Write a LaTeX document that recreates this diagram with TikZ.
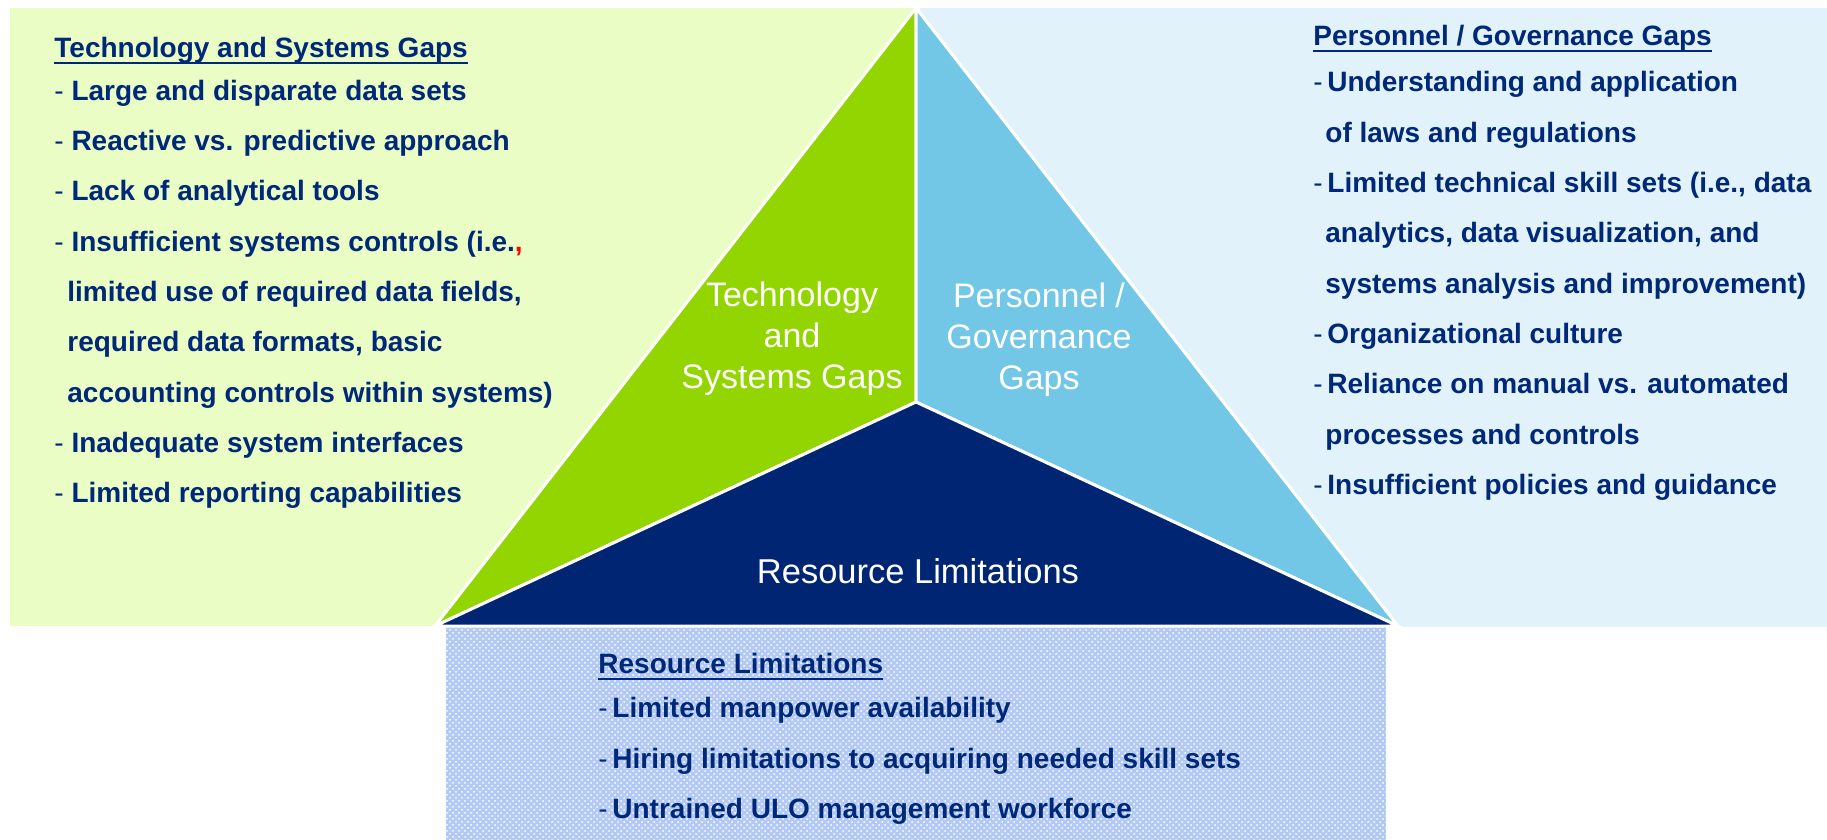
\documentclass[tikz,border=0pt]{standalone}
\usepackage{fontspec}
\setmainfont{Liberation Sans}
\usetikzlibrary{patterns,positioning}

\definecolor{textnavy}{RGB}{0,40,120}
\definecolor{trinavy}{RGB}{0,37,115}
\definecolor{trigreen}{RGB}{147,213,0}
\definecolor{triblue}{RGB}{114,198,230}
\definecolor{panelgreen}{RGB}{234,253,196}
\definecolor{panelblue}{RGB}{225,242,250}
\definecolor{panelbase}{RGB}{178,201,246}

\newsavebox{\headbox}
\newcommand{\listhead}[1]{\sbox{\headbox}{#1}\rlap{\rule[-3.2pt]{\wd\headbox}{1.1pt}}\usebox{\headbox}}
\newcommand{\ldash}{{\mdseries -}\ }
\newcommand{\rdash}{{\mdseries -}\,}
\newcommand{\lcont}{\hspace*{6.5pt}}
\newcommand{\rcont}{\hspace*{6pt}}

\tikzset{gap list/.style={anchor=north west,align=left,inner sep=0pt,text=textnavy,
                          font=\fontsize{14pt}{25.15pt}\selectfont\bfseries},
         tri label/.style={align=center,inner sep=0pt,text=white,
                           font=\fontsize{17pt}{20.4pt}\selectfont},
         tri part/.style={draw=white,line width=1.5pt,line join=miter},
}

\begin{document}
\begin{tikzpicture}[x=0.5pt,y=-0.5pt]
% \draw[help lines,step=100] (0,0) grid (1827,840);
\useasboundingbox (0,0) rectangle (1827,840);

% background panels
\fill[panelgreen] (10,8) rectangle (917,626);
\fill[panelblue] (920,8) rectangle (1827,627);
\fill[panelbase] (446,626) rectangle (1386,840);
\fill[pattern=crosshatch dots,pattern color=white] (446,626) rectangle (1386,840);

% the split triangle
\coordinate (apex) at (916,8);
\coordinate (hub) at (916,402);
\coordinate (lcorner) at (435,626);
\coordinate (rcorner) at (1398,626);
\fill[tri part,fill=trigreen] (apex) -- (hub) -- (lcorner) -- cycle;
\fill[tri part,fill=triblue] (apex) -- (rcorner) -- (hub) -- cycle;
\fill[tri part,fill=trinavy] (hub) -- (rcorner) -- (lcorner) -- cycle;

\node[tri label] (techlabel) at (792,339) {Technology\\and\\Systems Gaps};
\node[tri label] (perslabel) at (1039,340) {Personnel /\\Governance\\Gaps};
\node[tri label,anchor=base,font=\fontsize{17.25pt}{20pt}\selectfont] (reslabel) at (918,583) {Resource Limitations};

% gap lists
\node[gap list] (techlist) at (54,37) {%
  \listhead{Technology and Systems Gaps}\\[-3.8pt]
  \ldash Large and disparate data sets\\
  \ldash Reactive vs. predictive approach\\
  \ldash Lack of analytical tools\\
  \ldash Insufficient systems controls (i.e.{\color{red},}\\
  \lcont limited use of required data fields,\\
  \lcont required data formats, basic\\
  \lcont accounting controls within systems)\\
  \ldash Inadequate system interfaces\\
  \ldash Limited reporting capabilities};

\node[gap list] (perslist) at (1313,25) {%
  \listhead{Personnel / Governance Gaps}\\[-2pt]
  \rdash Understanding and application\\
  \rcont of laws and regulations\\
  \rdash Limited technical skill sets (i.e., data\\
  \rcont analytics, data visualization, and\\
  \rcont systems analysis and improvement)\\
  \rdash Organizational culture\\
  \rdash Reliance on manual vs. automated\\
  \rcont processes and controls\\
  \rdash Insufficient policies and guidance};

\node[gap list] (reslist) at (598,653) {%
  \listhead{Resource Limitations}\\[-3pt]
  \rdash Limited manpower availability\\
  \rdash Hiring limitations to acquiring needed skill sets\\
  \rdash Untrained ULO management workforce};
\end{tikzpicture}
\end{document}
